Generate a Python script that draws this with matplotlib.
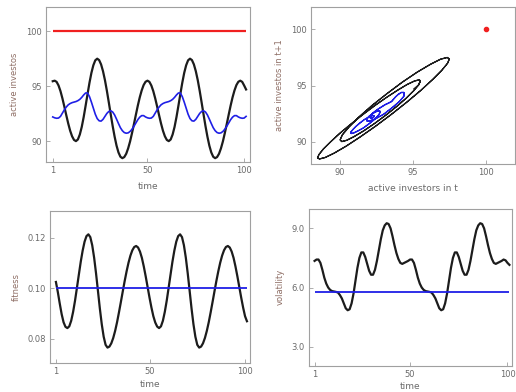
import matplotlib
matplotlib.use("Agg")
import matplotlib.pyplot as plt
from matplotlib.ticker import FormatStrFormatter

time = list(range(1, 102))

investors = [
    95.45, 95.50, 95.39, 95.06, 94.55, 93.89, 93.14, 92.36, 91.61, 90.95,
    90.44, 90.11, 90.00, 90.15, 90.60, 91.29, 92.19, 93.22, 94.28, 95.31,
    96.21, 96.90, 97.35, 97.50, 97.37, 96.98, 96.36, 95.55, 94.58, 93.52,
    92.43, 91.37, 90.41, 89.59, 88.97, 88.58, 88.45, 88.55, 88.85, 89.34,
    89.97, 90.73, 91.55, 92.40, 93.23, 93.98, 94.61, 95.10, 95.40, 95.50,
    95.39, 95.06, 94.55, 93.89, 93.14, 92.36, 91.61, 90.95, 90.44, 90.11,
    90.00, 90.15, 90.60, 91.29, 92.19, 93.22, 94.28, 95.31, 96.21, 96.90,
    97.35, 97.50, 97.37, 96.98, 96.36, 95.55, 94.58, 93.52, 92.43, 91.37,
    90.41, 89.59, 88.97, 88.58, 88.45, 88.55, 88.85, 89.34, 89.97, 90.73,
    91.55, 92.40, 93.23, 93.98, 94.61, 95.10, 95.40, 95.50, 95.39, 95.06,
    94.70,
]

investors_blue = [
    92.20, 92.12, 92.08, 92.10, 92.25, 92.55, 92.85, 93.10, 93.30, 93.42,
    93.50, 93.55, 93.60, 93.68, 93.80, 93.98, 94.20, 94.38, 94.38, 94.05,
    93.55, 93.00, 92.45, 92.05, 91.85, 91.82, 91.98, 92.25, 92.52, 92.70,
    92.76, 92.65, 92.38, 92.00, 91.60, 91.22, 90.95, 90.78, 90.72, 90.75,
    90.88, 91.08, 91.35, 91.65, 91.95, 92.18, 92.32, 92.32,
    92.20, 92.12, 92.08, 92.10, 92.25, 92.55, 92.85, 93.10, 93.30, 93.42,
    93.50, 93.55, 93.60, 93.68, 93.80, 93.98, 94.20, 94.38, 94.38, 94.05,
    93.55, 93.00, 92.45, 92.05, 91.85, 91.82, 91.98, 92.25, 92.52, 92.70,
    92.76, 92.65, 92.38, 92.00, 91.60, 91.22, 90.95, 90.78, 90.72, 90.75,
    90.88, 91.08, 91.35, 91.65, 91.95, 92.18, 92.32, 92.32,
    92.20, 92.12, 92.08, 92.10, 92.25,
]

investors_max = 100.0

fitness = [
    0.1025, 0.0985, 0.0940, 0.0898, 0.0866, 0.0848, 0.0843, 0.0850, 0.0872, 0.0907,
    0.0951, 0.1002, 0.1054, 0.1105, 0.1149, 0.1184, 0.1206, 0.1213, 0.1202, 0.1170,
    0.1121, 0.1059, 0.0990, 0.0920, 0.0858, 0.0809, 0.0777, 0.0766, 0.0770, 0.0783,
    0.0804, 0.0832, 0.0866, 0.0905, 0.0946, 0.0988, 0.1029, 0.1067, 0.1101, 0.1129,
    0.1150, 0.1163, 0.1167, 0.1161, 0.1145, 0.1120, 0.1086, 0.1047, 0.1005, 0.0963,
    0.0924, 0.0890, 0.0865, 0.0849, 0.0843, 0.0850, 0.0872, 0.0907, 0.0951, 0.1002,
    0.1054, 0.1105, 0.1149, 0.1184, 0.1206, 0.1213, 0.1202, 0.1170, 0.1121, 0.1059,
    0.0990, 0.0920, 0.0858, 0.0809, 0.0777, 0.0766, 0.0770, 0.0783, 0.0804, 0.0832,
    0.0866, 0.0905, 0.0946, 0.0988, 0.1029, 0.1067, 0.1101, 0.1129, 0.1150, 0.1163,
    0.1167, 0.1161, 0.1145, 0.1120, 0.1086, 0.1047, 0.1005, 0.0963, 0.0924, 0.0890,
    0.0870,
]

fitness_eq = 0.10

volatility = [
    7.35, 7.42, 7.42, 7.25, 6.90, 6.50, 6.20, 6.00, 5.88, 5.82,
    5.80, 5.78, 5.75, 5.62, 5.45, 5.20, 4.95, 4.85, 4.90, 5.20,
    5.70, 6.35, 7.00, 7.50, 7.78, 7.78, 7.55, 7.20, 6.85, 6.65,
    6.65, 6.90, 7.35, 7.90, 8.45, 8.90, 9.15, 9.26, 9.22, 9.00,
    8.60, 8.15, 7.75, 7.45, 7.25, 7.20, 7.25, 7.30,
    7.35, 7.42, 7.42, 7.25, 6.90, 6.50, 6.20, 6.00, 5.88, 5.82,
    5.80, 5.78, 5.75, 5.62, 5.45, 5.20, 4.95, 4.85, 4.90, 5.20,
    5.70, 6.35, 7.00, 7.50, 7.78, 7.78, 7.55, 7.20, 6.85, 6.65,
    6.65, 6.90, 7.35, 7.90, 8.45, 8.90, 9.15, 9.26, 9.22, 9.00,
    8.60, 8.15, 7.75, 7.45, 7.25, 7.20, 7.25, 7.30,
    7.35, 7.42, 7.38, 7.25, 7.15,
]

volatility_eq = 5.78

BLACK = "#1c1c1c"
BLUE = "#1f1fe6"
RED = "#f02020"
SPINE = "#a0a0a0"
TICKLABEL = "#6a6a6a"
YLABEL = "#8f6f66"


def style_axes(ax):
    for spine in ax.spines.values():
        spine.set_color(SPINE)
        spine.set_linewidth(0.8)
    ax.tick_params(direction="in", length=3, width=0.6, color=SPINE,
                   labelcolor=TICKLABEL, labelsize=6, pad=3)


def set_labels(ax, xlabel, ylabel, xpad=5):
    ax.set_xlabel(xlabel, fontsize=6.5, color=TICKLABEL, labelpad=xpad)
    ax.set_ylabel(ylabel, fontsize=6, color=YLABEL, labelpad=5)


fig = plt.figure(figsize=(5.16, 3.92), dpi=100)

ax1 = fig.add_axes([0.0891, 0.5867, 0.3953, 0.3954])
ax2 = fig.add_axes([0.6027, 0.5816, 0.3953, 0.4005])
ax3 = fig.add_axes([0.0969, 0.0732, 0.3876, 0.3885])
ax4 = fig.add_axes([0.5983, 0.0671, 0.3935, 0.3997])

# active investors over time
ax1.hlines(investors_max, time[0], time[-1], color=RED, lw=1.6)
ax1.plot(time, investors, color=BLACK, lw=1.6)
ax1.plot(time, investors_blue, color=BLUE, lw=1.2)
ax1.set_xlim(-2.5, 103)
ax1.set_ylim(88.1, 102.2)
ax1.set_xticks([1, 50, 100])
ax1.set_yticks([90, 95, 100])
style_axes(ax1)
set_labels(ax1, "time", "active investos")

# phase plot x(t) vs x(t+1)
ax2.plot(investors[:-1], investors[1:], color=BLACK, lw=0.9)
ax2.plot(investors_blue[:-1], investors_blue[1:], color=BLUE, lw=0.9)
ax2.plot([investors_max], [investors_max], "o", color=RED, ms=3)
ax2.set_xlim(88, 102)
ax2.set_ylim(88, 102)
ax2.set_xticks([90, 95, 100])
ax2.set_yticks([90, 95, 100])
style_axes(ax2)
set_labels(ax2, "active investors in t", "active investos in t+1")

# fitness
ax3.plot(time, fitness, color=BLACK, lw=1.6)
ax3.hlines(fitness_eq, time[0], time[-1], color=BLUE, lw=1.3)
ax3.set_xlim(-2.1, 102.6)
ax3.set_ylim(0.0704, 0.1305)
ax3.set_xticks([1, 50, 100])
ax3.set_yticks([0.08, 0.10, 0.12])
ax3.yaxis.set_major_formatter(FormatStrFormatter("%.2f"))
style_axes(ax3)
set_labels(ax3, "time", "fitness", xpad=2.5)

# volatility
ax4.plot(time, volatility, color=BLACK, lw=1.6)
ax4.hlines(volatility_eq, time[0], time[-1], color=BLUE, lw=1.3)
ax4.set_xlim(-2.0, 102.2)
ax4.set_ylim(2.04, 9.98)
ax4.set_xticks([1, 50, 100])
ax4.set_yticks([3.0, 6.0, 9.0])
ax4.yaxis.set_major_formatter(FormatStrFormatter("%.1f"))
style_axes(ax4)
set_labels(ax4, "time", "volatility", xpad=2.5)

fig.savefig("out.png", dpi=100)
